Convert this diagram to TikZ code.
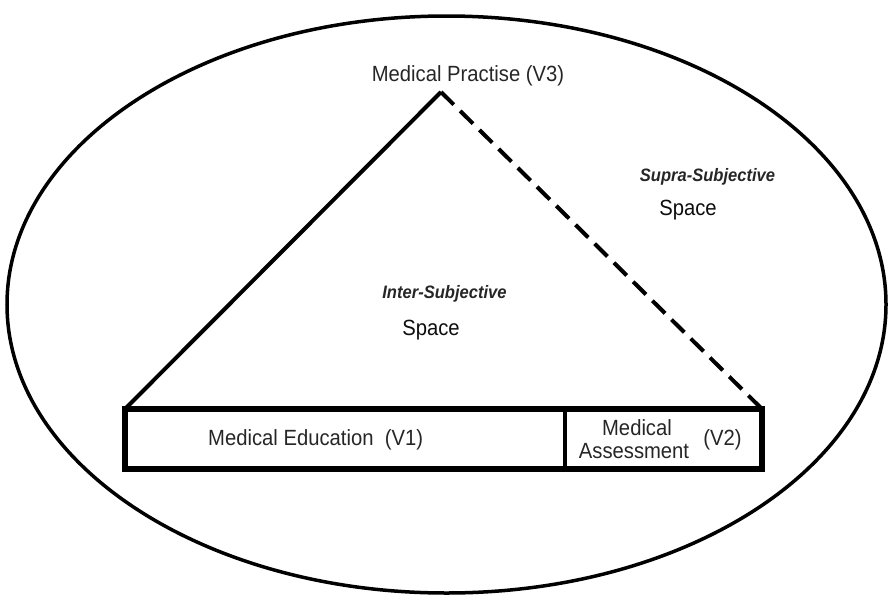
\documentclass[tikz,border=0pt]{standalone}
\usepackage{fontspec}
\setmainfont{Liberation Sans}[FakeStretch=0.92]
\begin{document}
\begin{tikzpicture}[x=1pt,y=-1pt,
  lbl/.style={inner sep=0pt,anchor=base,font=\fontsize{22}{24}\selectfont,text=black!85},
  emph/.style={inner sep=0pt,anchor=base,font=\fontsize{18}{20}\selectfont\bfseries\itshape,text=black!85},
  spc/.style={inner sep=0pt,anchor=base,font=\fontsize{22}{24}\selectfont,text=black!95},
  boxline/.style={draw=black,line width=5.5pt},
  triline/.style={draw=black,line width=4pt}]
\useasboundingbox (0,0) rectangle (891,600);
% outer ellipse
\draw[line width=3.5pt] (446.5,304.5) ellipse [x radius=439.5, y radius=288.5];
% triangle
\coordinate (apex) at (441,92);
\coordinate (bl) at (125,409);
\coordinate (br) at (762,409);
\draw[triline,line join=round] (bl) -- (apex);
\draw[triline,dash pattern=on 18pt off 9pt] (apex) -- (br);
% boxes
\draw[boxline] (125,409) rectangle (762,469);
\draw[line width=4pt] (565,409) -- (565,469);
% labels
\node[lbl] (v3) at (468,81) {Medical Practise (V3)};
\node[lbl,anchor=base west] (v1) at (208,445) {Medical Education\ \ (V1)};
\node[lbl] (ma1) at (637,435) {Medical};
\node[lbl] (ma2) at (634,458) {Assessment};
\node[lbl] (v2) at (722.5,445) {(V2)};
\node[emph] (supra) at (707.5,181) {Supra-Subjective};
\node[spc] (sspace) at (688,215) {Space};
\node[emph] (inter) at (444.5,298) {Inter-Subjective};
\node[spc] (ispace) at (431,335) {Space};
\end{tikzpicture}
\end{document}
